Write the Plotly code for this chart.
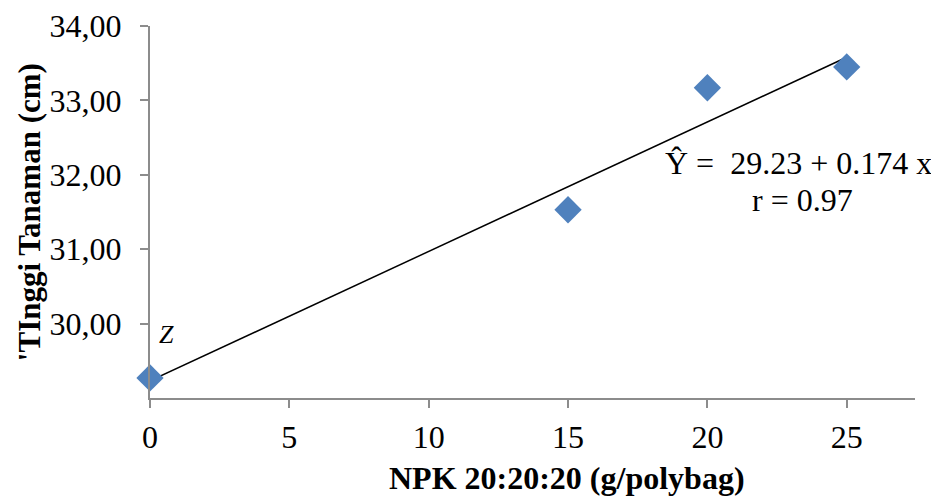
import plotly.graph_objects as go

# Data
npk_dose = [0, 15, 20, 25]
plant_height = [29.27, 31.53, 33.17, 33.45]
intercept = 29.23
slope = 0.174
fit_x = [0, 25]
fit_y = [intercept + slope * v for v in fit_x]

x_ticks = [0, 5, 10, 15, 20, 25]
y_ticks = [30, 31, 32, 33, 34]
y_tick_text = ["30,00", "31,00", "32,00", "33,00", "34,00"]

FONT = "Liberation Serif, Times New Roman, serif"

fig = go.Figure()
fig.add_trace(go.Scatter(
    x=fit_x, y=fit_y, mode="lines",
    line=dict(color="black", width=1.5), showlegend=False, hoverinfo="skip"))
fig.add_trace(go.Scatter(
    x=npk_dose, y=plant_height, mode="markers",
    marker=dict(symbol="diamond", size=21, color="#4f81bd"),
    showlegend=False, cliponaxis=False))

fig.add_annotation(x=1.025, y=32.16, xref="paper", yref="y",
                   text="Ŷ =  29.23 + 0.174 x", showarrow=False,
                   font=dict(family=FONT, size=32, color="black"),
                   xanchor="right", yanchor="middle")
fig.add_annotation(x=23.4, y=31.66, xref="x", yref="y",
                   text="r = 0.97", showarrow=False,
                   font=dict(family=FONT, size=32, color="black"),
                   xanchor="center", yanchor="middle")
fig.add_annotation(x=0.6, y=29.86, xref="x", yref="y",
                   text="<i>Z</i>", showarrow=False,
                   font=dict(family=FONT, size=26, color="black"),
                   xanchor="center", yanchor="middle")
# axis titles
fig.add_annotation(x=0.545, y=-0.215, xref="paper", yref="paper",
                   text="<b>NPK 20:20:20 (g/polybag)</b>", showarrow=False,
                   font=dict(family=FONT, size=32, color="black"),
                   xanchor="center", yanchor="middle")
fig.add_annotation(x=-0.158, y=0.5, xref="paper", yref="paper",
                   text="<b>'TInggi Tanaman (cm)</b>", showarrow=False,
                   textangle=-90,
                   font=dict(family=FONT, size=31, color="black"),
                   xanchor="center", yanchor="middle")

fig.update_xaxes(
    range=[0, 27.45], tickvals=x_ticks, ticktext=[str(v) for v in x_ticks],
    showgrid=False, zeroline=False, showline=True, linecolor="#8c8c8c", linewidth=2,
    ticks="outside", ticklen=8, tickcolor="#8c8c8c", tickwidth=2,
    ticklabelstandoff=2, automargin=False,
    tickfont=dict(family=FONT, size=32, color="black"))
fig.update_yaxes(
    range=[29.0, 34.0], tickvals=y_ticks, ticktext=y_tick_text,
    showgrid=False, zeroline=False, showline=True, linecolor="#8c8c8c", linewidth=2,
    ticks="outside", ticklen=8, tickcolor="#8c8c8c", tickwidth=2,
    ticklabelstandoff=12, automargin=False,
    tickfont=dict(family=FONT, size=32, color="black"))

fig.update_layout(
    width=931, height=490,
    margin=dict(l=142, r=24, t=18, b=100),
    paper_bgcolor="white", plot_bgcolor="white",
)

fig.write_html("out.html")
